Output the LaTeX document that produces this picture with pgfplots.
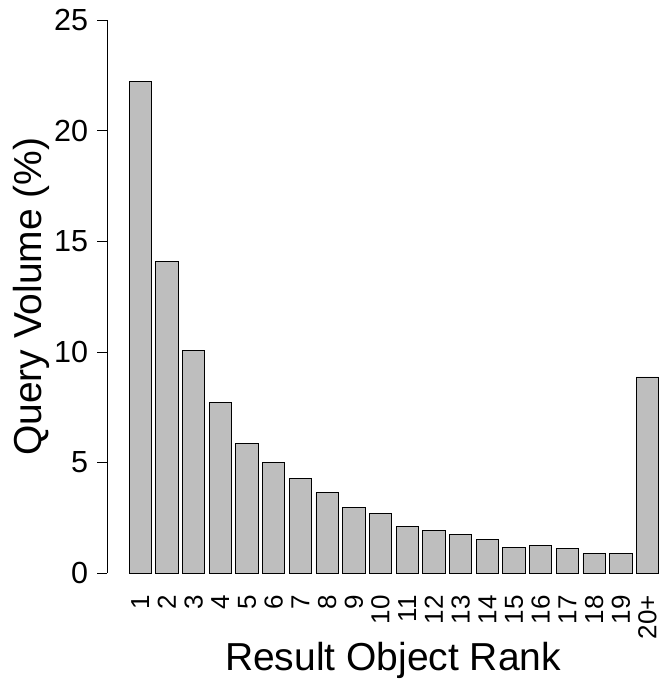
\documentclass[border=0pt]{standalone}
\usepackage{pgfplots}
\pgfplotsset{compat=1.18}
\usepackage{fontspec}
\setmainfont{Liberation Sans}
\definecolor{bargray}{RGB}{190,190,190}
\begin{document}
\begin{tikzpicture}
\begin{axis}[
  name=ax,
  scale only axis,
  width=551.7pt, height=552.7pt,
  xmin=-0.232, xmax=20.43,
  ymin=0, ymax=25,
  separate axis lines,
  axis x line*=bottom,
  axis y line*=left,
  x axis line style={draw=none},
  y axis line style={-, line width=0.8pt},
  xtick=data,
  xticklabels={1,2,3,4,5,6,7,8,9,10,11,12,13,14,15,16,17,18,19,20+},
  xtick style={draw=none},
  ytick={0,5,10,15,20,25},
  tick align=outside,
  major tick length=10pt,
  ytick style={line width=0.8pt, black},
  /pgf/number format/assume math mode=true,
  yticklabel style={font=\fontsize{30.5}{36}\selectfont, anchor=east, inner sep=0pt, xshift=-9pt},
  xticklabel style={font=\fontsize{26}{30}\selectfont, yshift=-12pt, rotate=90, anchor=east, inner sep=0pt},
  xlabel={Result Object Rank},
  ylabel={Query Volume (\%)},
  xlabel style={font=\fontsize{39}{47}\selectfont, at={(axis description cs:0.518,-0.1755)}, anchor=base},
  ylabel style={font=\fontsize{39}{47}\selectfont, at={(axis description cs:-0.1184,0.5)}, anchor=base, rotate=0},
]
\addplot[ybar, bar width=0.835, fill=bargray, draw=black, line width=0.8pt] coordinates {
(1,22.25) (2,14.08) (3,10.05) (4,7.73) (5,5.84) (6,5.00) (7,4.26) (8,3.64)
(9,2.96) (10,2.69) (11,2.12) (12,1.93) (13,1.74) (14,1.51) (15,1.15)
(16,1.24) (17,1.12) (18,0.89) (19,0.87) (20,8.87)
};
\end{axis}
\pgfresetboundingbox
\path[use as bounding box] ([shift={(-107.3pt,-106pt)}]ax.south west) rectangle ([shift={(0pt,20.3pt)}]ax.north east);
\end{tikzpicture}
\end{document}
